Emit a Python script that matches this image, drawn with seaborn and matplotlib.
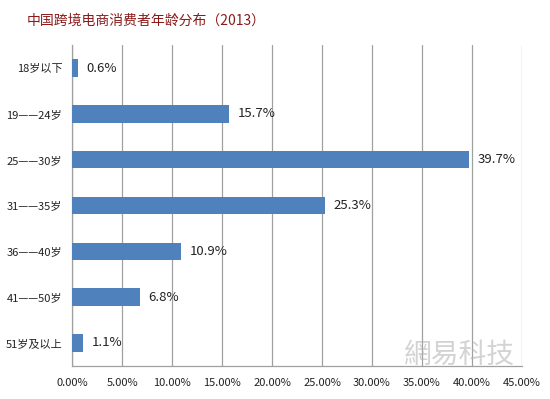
import matplotlib
matplotlib.use("Agg")
import matplotlib.pyplot as plt
import matplotlib.ticker as mticker
import numpy as np
import pandas as pd
import seaborn as sns

# ── Data ─────────────────────────────────────────────────
ages = ["18岁以下", "19——24岁", "25——30岁", "31——35岁", "36——40岁", "41——50岁", "51岁及以上"]
shares = [0.6, 15.7, 39.7, 25.3, 10.9, 6.8, 1.1]
x_ticks = [0, 5, 10, 15, 20, 25, 30, 35, 40, 45]

sns.set_theme(style="white")
plt.rcParams["font.family"] = ["Noto Sans CJK SC", "DejaVu Sans"]

BAR_BLUE = "#4F81BD"
GRID_GREY = "#a0a0a0"

df = pd.DataFrame({"age": ages, "share": shares})

fig = plt.figure(figsize=(5.5, 3.99), dpi=100)
ax = fig.add_axes([0.131, 0.083, 0.818, 0.804])

sns.barplot(data=df, x="share", y="age", orient="h", color=BAR_BLUE,
            saturation=1, width=0.38, linewidth=0, ax=ax, zorder=3)

ax.set_xlim(0, 45)
ax.set_ylim(len(ages) - 0.5, -0.5)
ax.set_xticks(x_ticks)
ax.xaxis.set_major_formatter(mticker.FuncFormatter(lambda v, p: f"{v:.2f}%"))
ax.tick_params(axis="x", labelsize=8, colors="#222222", length=4,
               color=GRID_GREY, direction="out", pad=5)
ax.grid(axis="x", color=GRID_GREY, linewidth=0.9, zorder=0)

# category labels, with small ticks at the category boundaries
ax.set_yticks(range(len(ages)))
ax.set_yticklabels(ages)
ax.tick_params(axis="y", length=0, labelsize=8, labelcolor="#222222", pad=7)
ax.set_yticks(np.arange(-0.5, len(ages), 1), minor=True)
ax.tick_params(axis="y", which="minor", length=4, color=GRID_GREY, direction="out")

ax.set_xlabel("")
ax.set_ylabel("")
for side in ["top", "right"]:
    ax.spines[side].set_visible(False)
for side in ["left", "bottom"]:
    ax.spines[side].set_color(GRID_GREY)
    ax.spines[side].set_linewidth(0.9)

for i, v in enumerate(shares):
    ax.annotate(f"{v}%", xy=(v, i), xytext=(6, 0), textcoords="offset points",
                va="center", ha="left", fontsize=9.5, color="#222222")

fig.text(0.049, 0.948, "中国跨境电商消费者年龄分布（2013）", fontsize=10,
         color="#8B1A1A", ha="left", va="center")

# faint watermark
fig.text(0.835, 0.11, "網易科技", fontsize=20, color="#b0b0b0", alpha=0.55,
         ha="center", va="center", family=["Noto Sans CJK TC", "DejaVu Sans"])

fig.savefig("out.png", dpi=100, facecolor="white")
plt.close(fig)
